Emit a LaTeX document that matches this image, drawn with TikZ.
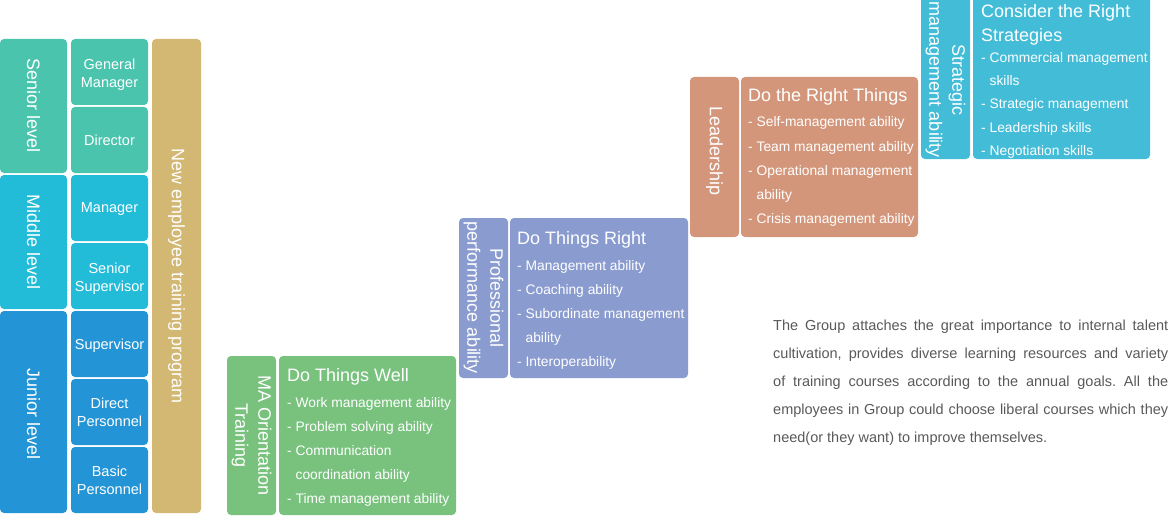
\documentclass[tikz,border=0pt]{standalone}
\usepackage{fontspec}
\setmainfont{Liberation Sans}
\definecolor{cSen}{RGB}{75,196,174}
\definecolor{cMid}{RGB}{34,188,217}
\definecolor{cJun}{RGB}{35,149,215}
\definecolor{cNew}{RGB}{211,184,116}
\definecolor{cGrn}{RGB}{120,194,126}
\definecolor{cPur}{RGB}{138,155,207}
\definecolor{cSal}{RGB}{212,150,122}
\definecolor{cBlu}{RGB}{67,188,215}
\definecolor{cTxt}{RGB}{89,89,89}
\frenchspacing
\begin{document}
\begin{tikzpicture}[x=1pt,y=-1pt,
  box/.style={rounded corners=4pt, inner sep=0pt, outer sep=0pt, anchor=north west},
  lab/.style={text=white, inner sep=0pt, font=\fontsize{18}{23}\selectfont},
  vlab/.style={lab, rotate=-90, align=center},
  rank/.style={text=white, inner sep=0pt, align=center, font=\fontsize{14.5}{18}\selectfont},
  ttl/.style={text=white, inner sep=0pt, anchor=base west, font=\fontsize{18}{24}\selectfont},
  item/.style={text=white, inner sep=0pt, anchor=base west, font=\fontsize{13.8}{24}\selectfont}]
\useasboundingbox (0,0) rectangle (1169,516);
\clip (0,0) rectangle (1169,516);

% left levels
\node[box, fill=cSen, minimum width=67pt, minimum height=134pt] (sen) at (0,39) {};
\node[box, fill=cMid, minimum width=67pt, minimum height=134pt] (mid) at (0,175) {};
\node[box, fill=cJun, minimum width=67pt, minimum height=202pt] (jun) at (0,311) {};
\node[vlab] (sen-t) at (sen.center) {Senior level};
\node[vlab] (mid-t) at (mid.center) {Middle level};
\node[vlab] (jun-t) at ([yshift=-2pt]jun.center) {Junior level};

% ranks
\node[box, fill=cSen, minimum width=77pt, minimum height=66pt] (gm) at (71,39) {};
\node[box, fill=cSen, minimum width=77pt, minimum height=66pt] (dir) at (71,107) {};
\node[box, fill=cMid, minimum width=77pt, minimum height=66pt] (mgr) at (71,175) {};
\node[box, fill=cMid, minimum width=77pt, minimum height=66pt] (ssup) at (71,243) {};
\node[box, fill=cJun, minimum width=77pt, minimum height=66pt] (sup) at (71,311) {};
\node[box, fill=cJun, minimum width=77pt, minimum height=66pt] (dp) at (71,379) {};
\node[box, fill=cJun, minimum width=77pt, minimum height=66pt] (bp) at (71,447) {};
\node[rank] (gm-t) at ([yshift=-3pt]gm.center) {General\\Manager};
\node[rank] (dir-t) at (dir.center) {Director};
\node[rank] (mgr-t) at ([yshift=-1.5pt]mgr.center) {Manager};
\node[rank] (ssup-t) at ([yshift=-3pt]ssup.center) {Senior\\Supervisor};
\node[rank] (sup-t) at ([yshift=-1.5pt]sup.center) {Supervisor};
\node[rank] (dp-t) at (dp.center) {Direct\\Personnel};
\node[rank] (bp-t) at (bp.center) {Basic\\Personnel};

% new employee
\node[box, fill=cNew, minimum width=49pt, minimum height=474pt] (new) at (152,39) {};
\node[vlab] (new-t) at (new.center) {New employee training program};

% step 1
\node[box, fill=cGrn, minimum width=49pt, minimum height=159pt] (ma) at (227,356) {};
\node[box, fill=cGrn, minimum width=177pt, minimum height=159pt] (dtw) at (279,356) {};
\node[vlab] (ma-t) at (ma.center) {MA Orientation\\Training};
\node[ttl] (dtw-t) at (287,381) {Do Things Well};
\foreach \t [count=\i] in {- Work management ability, - Problem solving ability, - Communication, \phantom{- }coordination ability, - Time management ability}
  \node[item] (dtw-\i) at (287,{383+24*\i}) {\t};

% step 2
\node[box, fill=cPur, minimum width=49pt, minimum height=160pt] (prof) at (459,218) {};
\node[box, fill=cPur, minimum width=178pt, minimum height=160pt] (dtr) at (510,218) {};
\node[vlab] (prof-t) at (prof.center) {Professional\\performance ability};
\node[ttl] (dtr-t) at (517,244) {Do Things Right};
\foreach \t [count=\i] in {- Management ability, - Coaching ability, - Subordinate management, \phantom{- }ability, - Interoperability}
  \node[item] (dtr-\i) at (517,{246+24*\i}) {\t};

% step 3
\node[box, fill=cSal, minimum width=49pt, minimum height=160pt] (lead) at (690,77) {};
\node[box, fill=cSal, minimum width=177pt, minimum height=160pt] (drt) at (741,77) {};
\node[vlab] (lead-t) at ([yshift=6pt]lead.center) {Leadership};
\node[ttl] (drt-t) at (748,102) {Do the Right Things};
\foreach \t [count=\i] in {- Self-management ability, - Team management ability, - Operational management, \phantom{- }ability, - Crisis management ability}
  \node[item] (drt-\i) at (748,{103+24*\i}) {\t};

% step 4
\node[box, fill=cBlu, minimum width=49pt, minimum height=165pt] (strat) at (921,-6) {};
\node[box, fill=cBlu, minimum width=177pt, minimum height=165pt] (crs) at (973,-6) {};
\node[vlab] (strat-t) at (945.5,80) {Strategic\\management ability};
\node[ttl] (crs-t1) at (981,18) {Consider the Right};
\node[ttl] (crs-t2) at (981,42) {Strategies};
\foreach \t [count=\i] in {- Commercial management, \phantom{- }skills, - Strategic management, - Leadership skills, - Negotiation skills}
  \node[item] (crs-\i) at (981,{40+23*\i}) {\t};

% paragraph
\node[anchor=north west, inner sep=0pt, text width=395pt, align=justify, text=cTxt,
      font=\fontsize{14.5}{28}\selectfont] (para) at (773,319.5)
  {The Group attaches the great importance to internal talent\linebreak
   cultivation, provides diverse learning resources and variety\linebreak
   of training courses according to the annual goals. All the\linebreak
   employees in Group could choose liberal courses which they\linebreak
   need(or they want) to improve themselves.};
\end{tikzpicture}
\end{document}
